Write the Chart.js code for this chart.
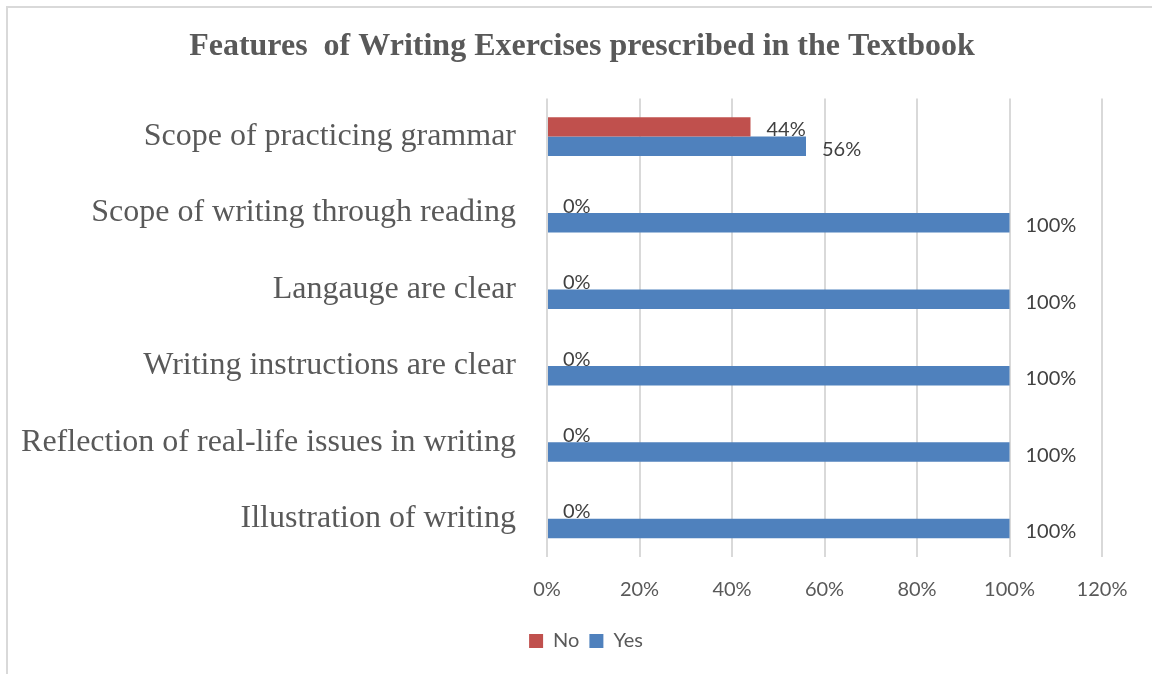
<!DOCTYPE html>
<html>
<head>
<meta charset="utf-8">
<script src="https://cdn.jsdelivr.net/npm/chart.js@4"></script>
<style>
  html, body { margin: 0; padding: 0; background: #fff; }
  #wrap { position: relative; width: 1152px; height: 674px; overflow: hidden; }
  #frame {
    position: absolute; left: 6px; top: 6px; width: 1160px; height: 680px;
    border: 2px solid #d9d9d9; box-sizing: border-box;
  }
  #chart { position: absolute; left: 0; top: 0; }
</style>
</head>
<body>
<div id="wrap">
  <div id="frame"></div>
  <canvas id="chart" width="1152" height="674"></canvas>
</div>
<script>
/* ---------- data ---------- */
const features = [
  'Scope of practicing grammar',
  'Scope of writing through reading',
  'Langauge are clear',
  'Writing instructions are clear',
  'Reflection of real-life issues in writing',
  'Illustration of writing',
];
const noPct  = [44, 0, 0, 0, 0, 0];
const yesPct = [56, 100, 100, 100, 100, 100];
const xTicks = [0, 20, 40, 60, 80, 100, 120];

const COLORS = {
  no: '#c0504d',
  yes: '#4f81bd',
  grid: '#d9d9d9',
  text: '#595959',
  label: '#404040',
};
const NUM_FONT = 'Lato, "Liberation Sans", sans-serif';
const SERIF = '"Liberation Serif", "Times New Roman", serif';

/* value labels drawn just past the end of each bar */
const barValueLabels = {
  id: 'barValueLabels',
  afterDatasetsDraw(chart) {
    const { ctx } = chart;
    ctx.save();
    ctx.font = '20px ' + NUM_FONT;
    ctx.fillStyle = COLORS.label;
    ctx.textAlign = 'left';
    ctx.textBaseline = 'middle';
    chart.data.datasets.forEach((ds, i) => {
      chart.getDatasetMeta(i).data.forEach((bar, j) => {
        ctx.fillText(ds.data[j] + '%', bar.x + 16, bar.y + 3);
      });
    });
    ctx.restore();
  },
};

/* re-centre title and legend on the frame instead of the padded layout box */
function centreBox(box, cx) {
  const w = box.right - box.left;
  box.left = cx - w / 2;
  box.right = box.left + w;
}
const boxShift = {
  id: 'boxShift',
  beforeDraw(chart) {
    centreBox(chart.titleBlock, 582);
    centreBox(chart.legend, 586);
  },
};

new Chart(document.getElementById('chart'), {
  type: 'bar',
  data: {
    labels: features,
    datasets: [
      { label: 'No', data: noPct, backgroundColor: COLORS.no },
      { label: 'Yes', data: yesPct, backgroundColor: COLORS.yes },
    ],
  },
  options: {
    indexAxis: 'y',
    responsive: false,
    animation: false,
    events: [],
    categoryPercentage: 0.51,
    barPercentage: 1,
    layout: { padding: { left: 0, right: 50, top: 0, bottom: 13 } },
    plugins: {
      title: {
        display: true,
        text: 'Features  of Writing Exercises prescribed in the Textbook',
        color: COLORS.text,
        font: { family: SERIF, size: 32, weight: 'bold' },
        padding: { top: 28, bottom: 32 },
      },
      legend: {
        position: 'bottom',
        labels: {
          color: COLORS.text,
          font: { family: NUM_FONT, size: 20 },
          boxWidth: 14,
          boxHeight: 14,
          padding: 10,
        },
      },
      tooltip: { enabled: false },
    },
    scales: {
      x: {
        min: 0,
        max: 120,
        afterBuildTicks: s => { s.ticks = xTicks.map(v => ({ value: v })); },
        ticks: {
          color: COLORS.text,
          font: { family: NUM_FONT, size: 20 },
          padding: 21,
          callback: v => v + '%',
        },
        grid: { color: COLORS.grid, lineWidth: 2, drawTicks: false },
        border: { display: false },
        afterFit: s => { s.height = 64; },
      },
      y: {
        ticks: {
          color: COLORS.text,
          font: { family: SERIF, size: 32 },
          padding: 31,
        },
        grid: { display: false, drawTicks: false },
        border: { display: false },
        afterFit: s => { s.width = 547; },
      },
    },
  },
  plugins: [barValueLabels, boxShift],
});
</script>
</body>
</html>
